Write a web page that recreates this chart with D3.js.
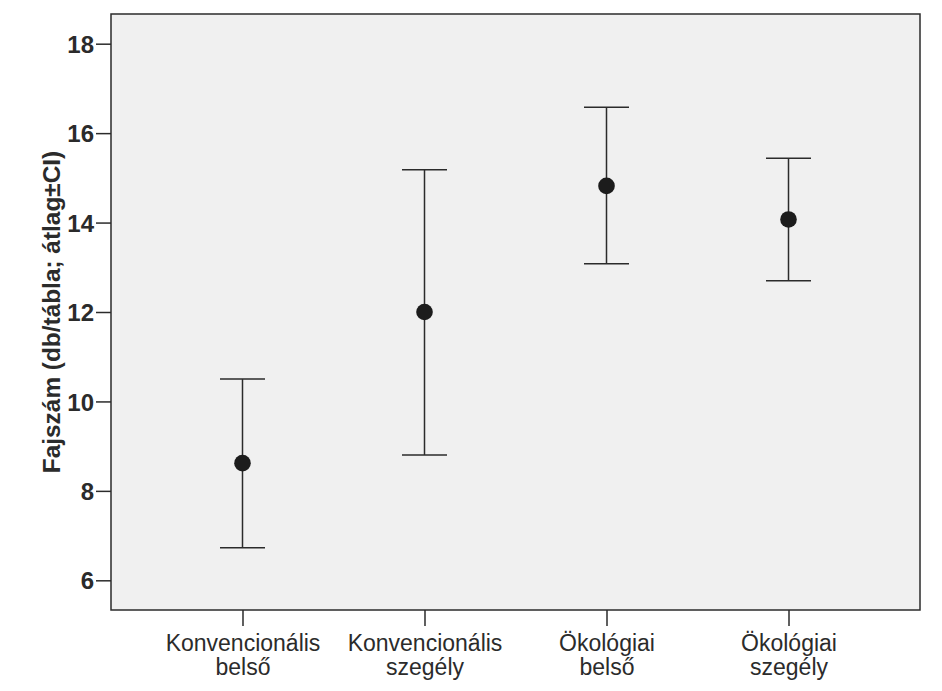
<!DOCTYPE html>
<html><head><meta charset="utf-8">
<script src="https://cdn.jsdelivr.net/npm/d3@7"></script>
<style>body{margin:0;background:#fff}</style>
</head><body>
<svg id="c" width="942" height="691"></svg>
<script>
const categories = [["Konvencionális","belső"],["Konvencionális","szegély"],["Ökológiai","belső"],["Ökológiai","szegély"]];
const means = [8.62, 12.0, 14.82, 14.07];
const lower = [6.73, 8.80, 13.08, 12.70];
const upper = [10.50, 15.18, 16.58, 15.44];
const yTicks = [6, 8, 10, 12, 14, 16, 18];
const yTitle = "Fajszám (db/tábla; átlag±CI)";

const L = 111, R = 920, T = 14, B = 610;
const svg = d3.select("#c");
const keys = categories.map((c,i)=>i);
const x = d3.scalePoint().domain(keys).range([L, R]).padding(0.7225);
const y = d3.scaleLinear().domain([5.336, 18.664]).range([B, T]);
const ink = "#2b2b2b";
const font = "Liberation Sans, Arial, sans-serif";

svg.append("rect").attr("x", L).attr("y", T).attr("width", R-L).attr("height", B-T)
  .attr("fill", "#f0f0f0").attr("stroke", ink).attr("stroke-width", 1.5);

const ya = svg.append("g").attr("transform", `translate(${L},0)`)
  .call(d3.axisLeft(y).tickValues(yTicks).tickSize(15).tickPadding(2).tickFormat(d3.format("d")));
ya.select(".domain").remove();
ya.selectAll("line").attr("stroke", ink).attr("stroke-width", 1.5);
ya.selectAll("text").attr("font-family", font).attr("dy", "0.36em")
  .attr("font-size", 24).attr("font-weight", "bold").attr("fill", ink);

const xa = svg.append("g").attr("transform", `translate(0,${B})`)
  .call(d3.axisBottom(x).tickSize(16).tickFormat(""));
xa.select(".domain").remove();
xa.selectAll("line").attr("stroke", ink).attr("stroke-width", 1.5);
xa.selectAll(".tick").each(function(d){
  const t = d3.select(this).append("text").attr("fill", ink)
    .attr("font-family", font).attr("font-size", 23)
    .attr("text-anchor", "middle");
  categories[d].forEach((s,i)=>t.append("tspan").attr("x",0).attr("y", 41 + i*24).text(s));
});

svg.append("text").attr("transform", `translate(60,312) rotate(-90)`)
  .attr("text-anchor", "middle").attr("font-family", font)
  .attr("font-size", 24.4).attr("font-weight", "bold").attr("fill", ink).text(yTitle);

const g = svg.append("g");
const cap = 22.5;
keys.forEach(i=>{
  const cx = x(i);
  g.append("line").attr("x1", cx).attr("x2", cx).attr("y1", y(lower[i])).attr("y2", y(upper[i]))
    .attr("stroke", ink).attr("stroke-width", 1.5);
  [lower[i], upper[i]].forEach(v=>g.append("line").attr("x1", cx-cap).attr("x2", cx+cap)
    .attr("y1", y(v)).attr("y2", y(v)).attr("stroke", ink).attr("stroke-width", 1.5));
  g.append("circle").attr("cx", cx).attr("cy", y(means[i])).attr("r", 8.3).attr("fill", "#1c1c1c");
});
</script>
</body></html>
